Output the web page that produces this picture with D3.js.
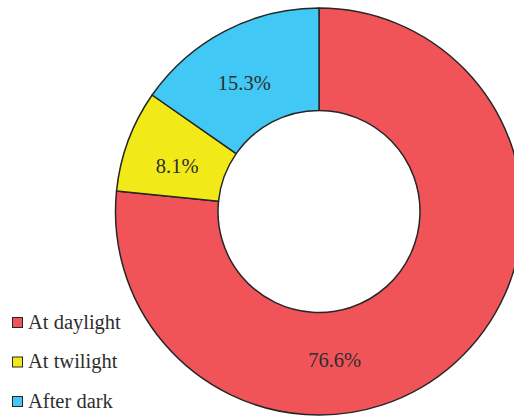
<!DOCTYPE html>
<html>
<head>
<meta charset="utf-8">
<script src="https://cdn.jsdelivr.net/npm/d3@7"></script>
<style>
  html, body { margin: 0; padding: 0; background: #fff; }
  svg { display: block; }
  text { font-family: "Liberation Serif", "DejaVu Serif", serif; fill: #2e2e2e; }
</style>
</head>
<body>
<svg id="chart" width="514" height="417"></svg>
<script>
// Share of observations by light condition (percent)
const categories = ["At daylight", "At twilight", "After dark"];
const values = [76.6, 8.1, 15.3];
const colors = ["#F15458", "#F2EA18", "#42C8F4"];

const width = 514, height = 417;
const cx = 319, cy = 211.5;
const outerR = 203.5, innerR = 101;

const svg = d3.select("#chart");
const data = categories.map((c, i) => ({ category: c, value: values[i], color: colors[i] }));

const pie = d3.pie().value(d => d.value).sort(null);
const arc = d3.arc().innerRadius(innerR).outerRadius(outerR);
const arcs = pie(data);

const g = svg.append("g").attr("transform", `translate(${cx},${cy})`);

g.selectAll("path.slice")
  .data(arcs)
  .join("path")
  .attr("class", "slice")
  .attr("d", arc)
  .attr("fill", d => d.data.color)
  .attr("stroke", "#262626")
  .attr("stroke-width", 1.5)
  .attr("stroke-linejoin", "round");

// Labels sit on a ring through the slice middle; the large slice's label is
// pulled toward the bottom of the ring.
const labelR = 149;
const labelAngle = d => {
  const mid = (d.startAngle + d.endAngle) / 2;
  return d.index === 0 ? mid + 0.63 : mid - 0.045;
};
g.selectAll("text.value")
  .data(arcs)
  .join("text")
  .attr("class", "value")
  .attr("x", d => labelR * Math.sin(labelAngle(d)))
  .attr("y", d => -labelR * Math.cos(labelAngle(d)))
  .attr("text-anchor", "middle")
  .attr("dominant-baseline", "central")
  .style("font-size", "20.5px")
  .text(d => d.data.value.toFixed(1) + "%");

// Legend
const legend = svg.append("g").attr("transform", "translate(12,317)");
const rows = legend.selectAll("g")
  .data(data)
  .join("g")
  .attr("transform", (d, i) => `translate(0,${i * 39.5})`);
rows.append("rect")
  .attr("x", 0.5).attr("y", 0.5)
  .attr("width", 10).attr("height", 10)
  .attr("fill", d => d.color)
  .attr("stroke", "#262626")
  .attr("stroke-width", 1);
rows.append("text")
  .attr("x", 16)
  .attr("y", 11.5)
  .style("font-size", "20.5px")
  .text(d => d.category);
</script>
</body>
</html>
